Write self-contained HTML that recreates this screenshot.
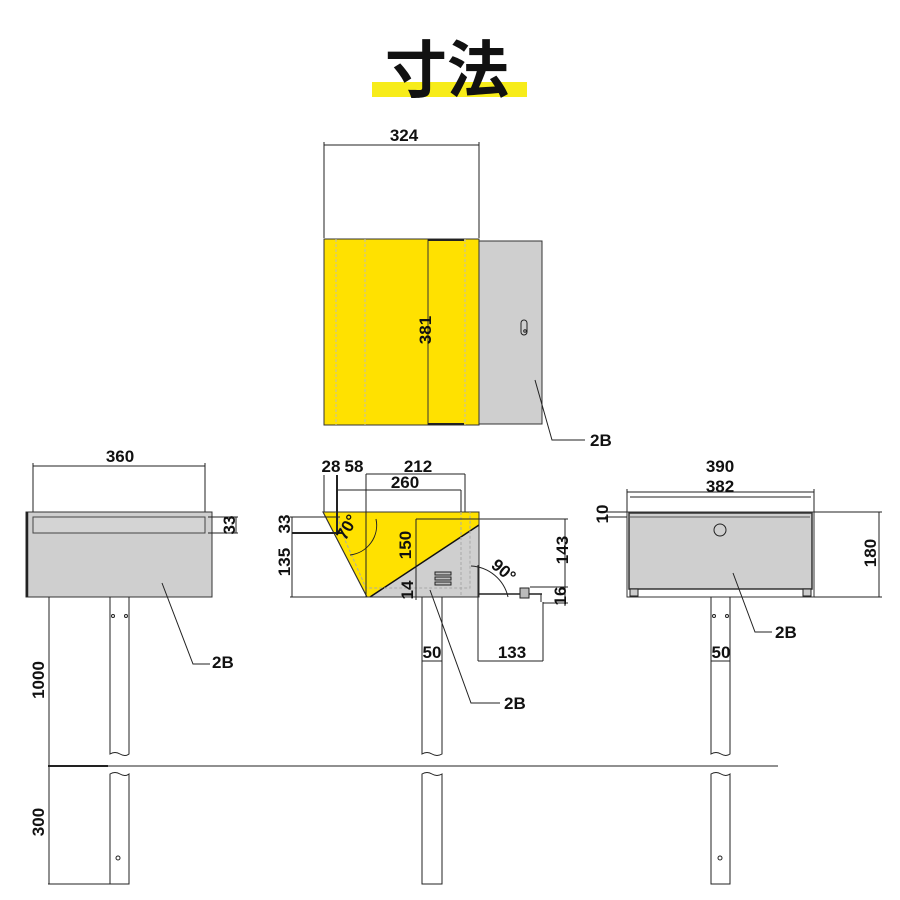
<!DOCTYPE html>
<html><head><meta charset="utf-8"><style>
html,body{margin:0;padding:0;background:#fff;width:900px;height:900px;overflow:hidden}
svg text{font-family:"Liberation Sans","Noto Sans CJK JP",sans-serif;font-weight:bold;fill:#111}
</style></head><body>
<svg width="900" height="900" viewBox="0 0 900 900" xmlns="http://www.w3.org/2000/svg">
<rect x="372" y="82" width="155" height="15" fill="#f7ec1a"/>
<text x="447" y="92" font-size="62" text-anchor="middle" font-family="Noto Sans CJK JP, sans-serif" font-weight="900">寸法</text>

<g stroke="#222" fill="none" stroke-width="1">
<!-- TOP VIEW -->
<line x1="324" y1="145" x2="479" y2="145"/>
<line x1="324" y1="142" x2="324" y2="238"/>
<line x1="479" y1="142" x2="479" y2="238"/>
<rect x="479" y="241" width="63" height="183" fill="#cfcfcf" stroke="#333"/>
<rect x="324" y="239" width="155" height="186" fill="#ffe100" stroke="#333"/>
<line x1="336" y1="239" x2="336" y2="425" stroke="#bbb" stroke-dasharray="3,2"/>
<line x1="365" y1="239" x2="365" y2="425" stroke="#bbb" stroke-dasharray="3,2"/>
<line x1="465" y1="239" x2="465" y2="425" stroke="#bbb" stroke-dasharray="3,2"/>
<line x1="428" y1="239" x2="428" y2="425" stroke="#333"/>
<line x1="428" y1="240" x2="464" y2="240" stroke-width="2"/>
<line x1="428" y1="424" x2="464" y2="424" stroke-width="2"/>
<rect x="521" y="320" width="6" height="15" rx="3" fill="#cfcfcf"/>
<circle cx="525" cy="331" r="1.3"/>
<polyline points="535,380 552,440 585,440"/>

<!-- LEFT VIEW -->
<line x1="33" y1="466" x2="205" y2="466"/>
<line x1="33" y1="463" x2="33" y2="533"/>
<line x1="205" y1="463" x2="205" y2="533"/>
<rect x="26" y="512" width="186" height="85" fill="#cfcfcf" stroke="#333"/>
<line x1="27" y1="512" x2="27" y2="597" stroke-width="2.5"/>
<rect x="33" y="517" width="172" height="16" fill="#d4d4d4" stroke="#444"/>
<line x1="208" y1="517" x2="238" y2="517"/>
<line x1="208" y1="533" x2="238" y2="533"/>
<line x1="236" y1="517" x2="236" y2="533"/>
<polyline points="162,583 193,664 210,664"/>
<line x1="49" y1="597" x2="49" y2="884"/>
<line x1="48" y1="766" x2="778" y2="766"/>
<line x1="48" y1="766" x2="108" y2="766" stroke-width="2"/>
<line x1="48" y1="884" x2="129" y2="884"/>
<path d="M110 597 V754 q5 -3 10 0 t9 0 V597"/>
<path d="M110 884 V774 q5 -3 10 0 t9 0 V884 Z"/>
<circle cx="113" cy="616" r="1.5"/><circle cx="126" cy="616" r="1.5"/>
<circle cx="118" cy="858" r="2"/>

<!-- MIDDLE VIEW -->
<polygon points="323,512 479,512 479,597 367,597" fill="#ffe100" stroke="#333"/>
<polygon points="370,597 479,525 479,597" fill="#cfcfcf" stroke="none"/>
<line x1="370" y1="597" x2="479" y2="525" stroke="#111" stroke-width="1.5"/>
<polygon points="323,512 479,512 479,597 367,597" fill="none" stroke="#333"/>
<polyline points="336,512 345,540 366,588 470,588 470,512" stroke="#aaa" stroke-dasharray="3,2"/>
<line x1="461" y1="512" x2="461" y2="597" stroke="#aaa" stroke-dasharray="3,2"/>
<rect x="435" y="572" width="16" height="3" fill="#bbb"/>
<rect x="435" y="577" width="16" height="3" fill="#bbb"/>
<rect x="435" y="582" width="16" height="3" fill="#bbb"/>
<line x1="479" y1="594" x2="542" y2="594" stroke-width="1.5"/>
<line x1="541" y1="594" x2="541" y2="602"/>
<rect x="520" y="588" width="9" height="10" fill="#bbb"/>
<line x1="324" y1="475" x2="324" y2="512"/>
<line x1="337" y1="475" x2="337" y2="533" stroke-width="2"/>
<line x1="366" y1="474" x2="366" y2="597"/>
<line x1="366" y1="474" x2="465" y2="474"/>
<line x1="465" y1="474" x2="465" y2="512"/>
<line x1="337" y1="490" x2="461" y2="490"/>
<line x1="461" y1="490" x2="461" y2="512"/>
<line x1="290" y1="517" x2="340" y2="517"/>
<line x1="292" y1="533" x2="342" y2="533" stroke-width="2"/>
<line x1="290" y1="597" x2="367" y2="597"/>
<line x1="292" y1="517" x2="292" y2="597"/>
<path d="M350 555 A30 30 0 0 0 376 519"/>
<line x1="416" y1="519" x2="416" y2="600"/>
<line x1="416" y1="519" x2="568" y2="519"/>
<line x1="565" y1="519" x2="565" y2="588"/>
<line x1="530" y1="587" x2="568" y2="587"/>
<line x1="543" y1="603" x2="568" y2="603"/>
<line x1="565" y1="587" x2="565" y2="606"/>
<line x1="478" y1="565" x2="478" y2="661"/>
<path d="M471 566 A40 40 0 0 1 508 597"/>
<line x1="543" y1="602" x2="543" y2="661"/>
<line x1="478" y1="661" x2="543" y2="661"/>
<polyline points="430,590 471,703 500,703"/>
<path d="M422 597 V754 q5 -3 10 0 t10 0 V597"/>
<path d="M422 884 V774 q5 -3 10 0 t10 0 V884 Z"/>
<line x1="422" y1="661" x2="442" y2="661"/>

<!-- RIGHT VIEW -->
<line x1="627" y1="492" x2="814" y2="492"/>
<line x1="630" y1="497" x2="811" y2="497"/>
<line x1="627" y1="489" x2="627" y2="512"/>
<line x1="814" y1="489" x2="814" y2="512"/>
<rect x="627" y="512" width="187" height="85" fill="#fff" stroke="#333"/>
<rect x="629" y="513" width="183" height="76" fill="#cfcfcf" stroke="#333" stroke-width="1.5"/>
<line x1="630" y1="517" x2="810" y2="517" stroke="#555"/>
<rect x="630" y="589" width="8" height="7" fill="#ccc"/>
<rect x="803" y="589" width="8" height="7" fill="#ccc"/>
<circle cx="720" cy="530" r="6" fill="#cfcfcf"/>
<line x1="605" y1="512" x2="627" y2="512"/>
<line x1="605" y1="517" x2="627" y2="517"/>
<line x1="814" y1="512" x2="882" y2="512"/>
<line x1="814" y1="597" x2="882" y2="597"/>
<line x1="879" y1="512" x2="879" y2="597"/>
<polyline points="733,573 755,632 772,632"/>
<path d="M711 597 V754 q5 -3 10 0 t9 0 V597"/>
<path d="M711 884 V774 q5 -3 10 0 t9 0 V884 Z"/>
<circle cx="714" cy="616" r="1.5"/><circle cx="727" cy="616" r="1.5"/>
<circle cx="720" cy="858" r="2"/>
<line x1="711" y1="661" x2="730" y2="661"/>
</g>

<g font-size="17">
<text x="404" y="141" text-anchor="middle">324</text>
<text transform="translate(431,330) rotate(-90)" text-anchor="middle">381</text>
<text x="590" y="446">2B</text>
<text x="120" y="462" text-anchor="middle">360</text>
<text transform="translate(235,525) rotate(-90)" text-anchor="middle">33</text>
<text x="212" y="668">2B</text>
<text transform="translate(44,680) rotate(-90)" text-anchor="middle">1000</text>
<text transform="translate(44,822) rotate(-90)" text-anchor="middle">300</text>
<text x="331" y="472" text-anchor="middle">28</text>
<text x="354" y="472" text-anchor="middle">58</text>
<text x="418" y="472" text-anchor="middle">212</text>
<text x="405" y="488" text-anchor="middle">260</text>
<text transform="translate(290,524) rotate(-90)" text-anchor="middle">33</text>
<text transform="translate(290,562) rotate(-90)" text-anchor="middle">135</text>
<text transform="translate(352,530) rotate(-60)" text-anchor="middle">70°</text>
<text transform="translate(411,545) rotate(-90)" text-anchor="middle">150</text>
<text transform="translate(413,590) rotate(-90)" text-anchor="middle">14</text>
<text transform="translate(568,550) rotate(-90)" text-anchor="middle">143</text>
<text transform="translate(500,575) rotate(40)" text-anchor="middle">90°</text>
<text transform="translate(566,596) rotate(-90)" text-anchor="middle">16</text>
<text x="512" y="658" text-anchor="middle">133</text>
<text x="432" y="658" text-anchor="middle">50</text>
<text x="504" y="709">2B</text>
<text x="720" y="472" text-anchor="middle">390</text>
<text x="720" y="492" text-anchor="middle">382</text>
<text transform="translate(608,514) rotate(-90)" text-anchor="middle">10</text>
<text transform="translate(876,553) rotate(-90)" text-anchor="middle">180</text>
<text x="721" y="658" text-anchor="middle">50</text>
<text x="775" y="638">2B</text>
</g>
</svg>
</body></html>
